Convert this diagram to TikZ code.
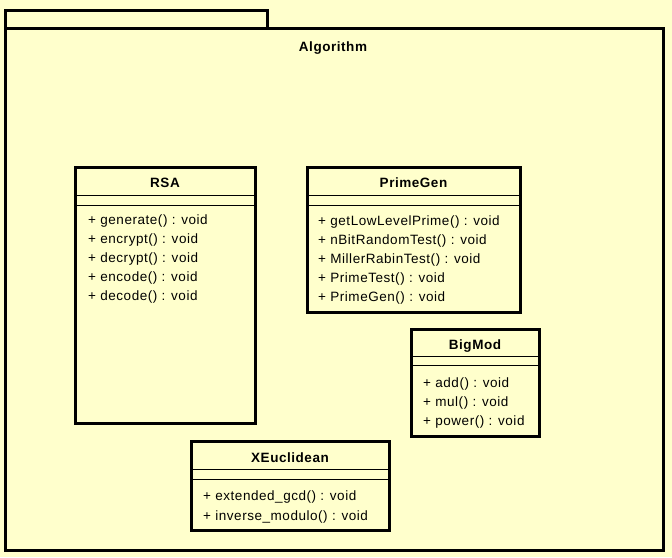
\documentclass[tikz,border=0pt]{standalone}
\usepackage{fontspec}
\setmainfont{Liberation Sans}[LetterSpace=4]
\definecolor{bg}{RGB}{255,255,204}
\begin{document}
\begin{tikzpicture}[x=1pt,y=-1pt,
  frame/.style={draw=black,line width=3pt,fill=bg},
  sep/.style={draw=black,line width=1pt},
  ttl/.style={font=\bfseries\fontsize{13.5}{15}\selectfont,anchor=base},
  meth/.style={font=\fontsize{13.5}{15}\selectfont,anchor=base west,inner sep=0pt}]
\fill[bg] (0,0) rectangle (672,557);
\useasboundingbox (0,0) rectangle (672,557);
% package
\draw[frame] (5,10) rectangle (267,28);
\draw[frame] (5,28) rectangle (663,550);
\node[ttl] (pkg) at (333,51) {Algorithm};
% RSA
\draw[frame] (75,167) rectangle (255,423);
\draw[sep] (75,195) -- (255,195);
\draw[sep] (75,205) -- (255,205);
\node[ttl] (rsa) at (165,187) {RSA};
\node[meth] (r1) at (88,224) {+ generate() : void};
\node[meth] (r2) at (88,243) {+ encrypt() : void};
\node[meth] (r3) at (88,262) {+ decrypt() : void};
\node[meth] (r4) at (88,281) {+ encode() : void};
\node[meth] (r5) at (88,300) {+ decode() : void};
% PrimeGen
\draw[frame] (307,167) rectangle (520,312);
\draw[sep] (307,195) -- (520,195);
\draw[sep] (307,205) -- (520,205);
\node[ttl] (pg) at (413.5,187) {PrimeGen};
\node[meth] (p1) at (318,225) {+ getLowLevelPrime() : void};
\node[meth] (p2) at (318,244) {+ nBitRandomTest() : void};
\node[meth] (p3) at (318,263) {+ MillerRabinTest() : void};
\node[meth] (p4) at (318,282) {+ PrimeTest() : void};
\node[meth] (p5) at (318,301) {+ PrimeGen() : void};
% BigMod
\draw[frame] (411,329) rectangle (539,436);
\draw[sep] (411,356) -- (539,356);
\draw[sep] (411,365) -- (539,365);
\node[ttl] (bm) at (475,349) {BigMod};
\node[meth] (b1) at (423,387) {+ add() : void};
\node[meth] (b2) at (423,406) {+ mul() : void};
\node[meth] (b3) at (423,425) {+ power() : void};
% XEuclidean
\draw[frame] (191,441) rectangle (389,530);
\draw[sep] (191,469) -- (389,469);
\draw[sep] (191,479) -- (389,479);
\node[ttl] (xe) at (290,462) {XEuclidean};
\node[meth] (x1) at (203,500) {+ extended\_gcd() : void};
\node[meth] (x2) at (203,520) {+ inverse\_modulo() : void};
\end{tikzpicture}
\end{document}
